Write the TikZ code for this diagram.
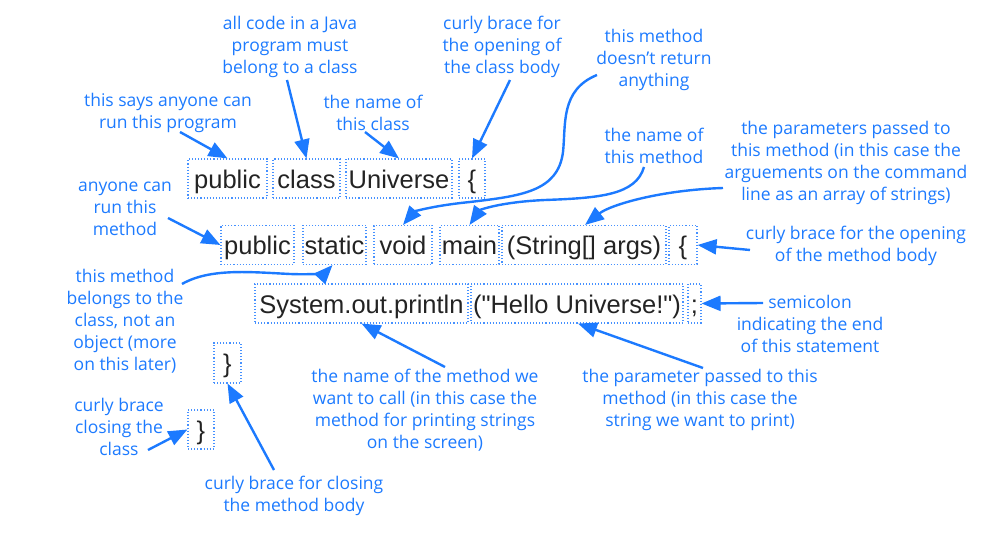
\documentclass[tikz,border=0pt]{standalone}
\usepackage{fontspec}
\setmainfont{Open Sans}
\newfontfamily\codefont{Liberation Sans}
\usepackage{tikz}
\usetikzlibrary{arrows.meta,calc}
\definecolor{note}{RGB}{28,122,255}
\definecolor{boxline}{RGB}{70,145,255}
\definecolor{code}{RGB}{35,35,35}
\begin{document}
\begin{tikzpicture}[x=1pt,y=-1pt,
  every node/.style={inner sep=0pt},
  codebox/.style={draw=boxline,dotted,line width=1.1pt,minimum height=39pt,
    text height=22pt,text depth=2pt,
    font=\codefont\fontsize{25.5}{28}\selectfont,text=code},
  notetext/.style={align=center,text=note,font=\fontsize{17.5}{22}\selectfont},
  pointer/.style={note,line width=2.4pt,-{Triangle[length=19pt,width=15pt]}}]
\useasboundingbox (0,0) rectangle (1005,548);
% the code, one box per token
\node[codebox,minimum width=79pt] (kpub) at (227.5,178.5) {public};
\node[codebox,minimum width=67pt] (kclass) at (306.5,178.5) {class};
\node[codebox,minimum width=106pt] (kname) at (399,178.5) {Universe};
\node[codebox,minimum width=26pt] (kopen) at (472,178.5) {\{};
\node[codebox,minimum width=73pt] (mpub) at (257.5,245) {public};
\node[codebox,minimum width=63pt] (mstatic) at (334.5,245) {static};
\node[codebox,minimum width=58pt] (mvoid) at (403,245) {void};
\node[codebox,minimum width=59pt] (mmain) at (469.5,245) {main};
\node[codebox,minimum width=164pt] (margs) at (584,245) {(String[] args)};
\node[codebox,minimum width=28pt] (mopen) at (683,245) {\{};
\node[codebox,minimum width=213pt] (sprint) at (361.5,303.5) {System.out.println};
\node[codebox,minimum width=212pt] (shello) at (577,303.5) {("Hello Universe!")};
\node[codebox,minimum width=13pt] (ssemi) at (694.5,303.5) {;};
\node[codebox,minimum width=27pt,minimum height=40pt] (mclose) at (227.5,363) {\}};
\node[codebox,minimum width=26pt] (kclose) at (201,429.5) {\}};
% the notes
\node[notetext] (ncode) at (290,47) {all code in a Java\\program must\\belong to a class};
\node[notetext] (nobrace) at (502,47) {curly brace for\\the opening of\\the class body};
\node[notetext] (nret) at (654,60) {this method\\doesn't return\\anything};
\node[notetext] (nsays) at (168,113) {this says anyone can\\run this program};
\node[notetext] (ncname) at (373,113) {the name of\\this class};
\node[notetext] (nmname) at (654,146) {the name of\\this method};
\node[notetext] (nargs) at (846,162.5) {the parameters passed to\\this method (in this case the\\arguements on the command\\line as an array of strings)};
\node[notetext] (nrun) at (125,209) {anyone can\\run this\\method};
\node[notetext] (nmbody) at (856,245.5) {curly brace for the opening\\of the method body};
\node[notetext] (nstatic) at (125,321) {this method\\belongs to the\\class, not an\\object (more\\on this later)};
\node[notetext] (nsemi) at (810,324) {semicolon\\indicating the end\\of this statement};
\node[notetext] (ncall) at (425,410) {the name of the method we\\want to call (in this case the\\method for printing strings\\on the screen)};
\node[notetext] (nparam) at (700,400) {the parameter passed to this\\method (in this case the\\string we want to print)};
\node[notetext] (ncls) at (119,427) {curly brace\\closing the\\class};
\node[notetext] (nmclose) at (294,496) {curly brace for closing\\the method body};
% pointers
\draw[pointer] ([shift={(12,19)}]nsays.center) -- (kpub.north);
\draw[pointer] ([shift={(-3,33)}]ncode.center) -- (kclass.north);
\draw[pointer] ([shift={(-8,19)}]ncname.center) -- (kname.north);
\draw[pointer] ([shift={(8,33)}]nobrace.center) -- (kopen.north);
\draw[pointer] ([shift={(-57,15)}]nret.center) .. controls (560,90) and (566,125) .. (563,152)
  .. controls (558,192) and (520,196) .. (470,202) .. controls (430,206) and (414,212) .. (mvoid.north);
\draw[pointer] ([shift={(-10,21)}]nmname.center) .. controls (636,195) and (600,198) .. (545,200)
  .. controls (500,202) and (480,210) .. (mmain.north);
\draw[pointer] ([shift={(-123,25.5)}]nargs.center) .. controls (660,190) and (610,205) .. ([xshift=1pt]margs.north);
\draw[pointer] ([shift={(43,9)}]nrun.center) -- (mpub.west);
\draw[pointer] ([shift={(-106,4.5)}]nmbody.center) -- (mopen.east);
\draw[pointer] ([shift={(57,-37)}]nstatic.center) .. controls (210,268) and (250,272) .. (290,274)
  .. controls (315,275) and (326,272) .. ([xshift=-2pt]mstatic.south);
\draw[pointer] ([shift={(-47,-21)}]nsemi.center) -- (ssemi.east);
\draw[pointer] ([shift={(20,-43)}]ncall.center) -- (sprint.south);
\draw[pointer] ([shift={(3,-32)}]nparam.center) -- ([xshift=1pt]shello.south);
\draw[pointer] ([shift={(29,23)}]ncls.center) -- (kclose.west);
\draw[pointer] ([shift={(-20,-26)}]nmclose.center) -- (mclose.south);
\end{tikzpicture}
\end{document}
